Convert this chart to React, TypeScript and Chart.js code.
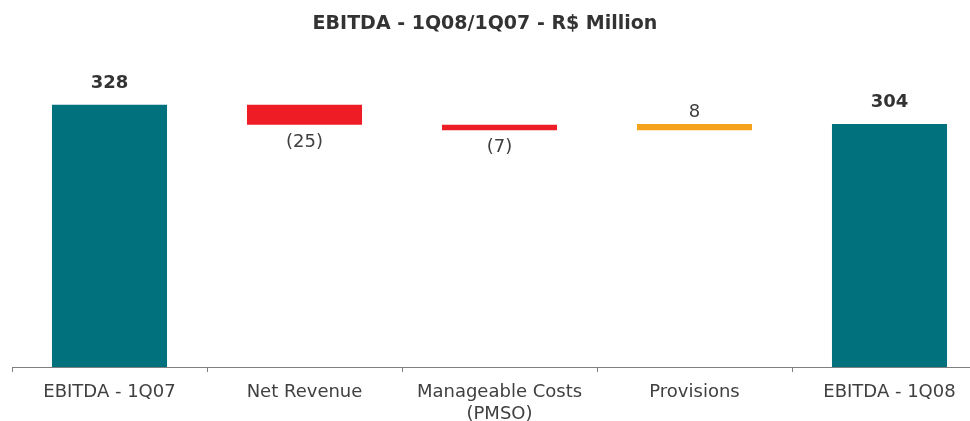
import React, { useEffect, useRef } from "react";
import { Chart, registerables } from "chart.js";

Chart.register(...registerables);

const TITLE = "EBITDA - 1Q08/1Q07 - R$ Million";
const categories: (string | string[])[] = [
  "EBITDA - 1Q07",
  "Net Revenue",
  ["Manageable Costs", "(PMSO)"],
  "Provisions",
  "EBITDA - 1Q08",
];
const startValue = 328;
const deltas = [-25, -7, 8];
const endValue = 304;
const valueLabels = ["328", "(25)", "(7)", "8", "304"];
const kinds = ["total", "delta", "delta", "delta", "total"];

const TEAL = "#00717D";
const RED = "#EE1C25";
const ORANGE = "#F7A21B";
const FONT = "'DejaVu Sans', Verdana, sans-serif";

function buildRanges(): [number, number][] {
  const out: [number, number][] = [[0, startValue]];
  let cur = startValue;
  for (const d of deltas) {
    const next = cur + d;
    out.push([Math.min(cur, next), Math.max(cur, next)]);
    cur = next;
  }
  out.push([0, endValue]);
  return out;
}

function buildColors(): string[] {
  const c: string[] = [TEAL];
  for (const d of deltas) c.push(d < 0 ? RED : ORANGE);
  c.push(TEAL);
  return c;
}

const labelPlugin = {
  id: "wfLabels",
  afterDatasetsDraw(chart: any) {
    const ctx = chart.ctx;
    const ys = chart.scales.y;
    const meta = chart.getDatasetMeta(0);
    const ranges = chart.data.datasets[0].data as [number, number][];
    const signed = [startValue, ...deltas, endValue];
    ctx.save();
    ctx.textAlign = "center";
    ctx.textBaseline = "alphabetic";
    meta.data.forEach((el: any, i: number) => {
      const top = ys.getPixelForValue(ranges[i][1]);
      const bottom = ys.getPixelForValue(ranges[i][0]);
      const isTotal = kinds[i] === "total";
      ctx.font = `${isTotal ? "bold " : ""}18px ${FONT}`;
      ctx.fillStyle = isTotal ? "#333333" : "#404040";
      let y: number;
      if (isTotal) y = top - 17;
      else if (signed[i] >= 0) y = top - 7;
      else y = bottom + 22;
      ctx.fillText(valueLabels[i], el.x, y);
    });
    ctx.font = `bold 19px ${FONT}`;
    ctx.fillStyle = "#333333";
    ctx.fillText(TITLE, 485, 29);
    ctx.restore();
  },
};

export default function App() {
  const ref = useRef<HTMLCanvasElement | null>(null);
  useEffect(() => {
    document.body.style.overflow = "hidden";
    const canvas = ref.current!;
    const chart = new Chart(canvas, {
      type: "bar",
      data: {
        labels: categories as any,
        datasets: [
          {
            data: buildRanges() as any,
            backgroundColor: buildColors(),
            borderWidth: 0,
            categoryPercentage: 1,
            barPercentage: 0.59,
          },
        ],
      },
      options: {
        animation: false,
        responsive: false,
        devicePixelRatio: 1,
        layout: { padding: { left: 12, right: 13, top: 40, bottom: 0 } },
        plugins: {
          legend: { display: false },
          title: { display: false },
          tooltip: { enabled: false },
        },
        scales: {
          y: { display: false, min: 0, max: 409 },
          x: {
            grid: {
              drawOnChartArea: false,
              drawTicks: true,
              tickLength: 5,
              color: "#808080",
              offset: true,
            },
            border: { color: "#808080", width: 1 },
            ticks: {
              color: "#404040",
              font: { family: FONT, size: 18, lineHeight: 1.2 },
              padding: 10,
              maxRotation: 0,
              autoSkip: false,
            },
            afterFit: (s: any) => {
              s.height = 54;
            },
          },
        },
      },
      plugins: [labelPlugin],
    });
    return () => chart.destroy();
  }, []);
  return (
    <div style={{ position: "absolute", left: 0, top: 0, width: 1000, height: 421 }}>
      <canvas ref={ref} width={1000} height={421} style={{ width: 1000, height: 421, display: "block" }} />
    </div>
  );
}
